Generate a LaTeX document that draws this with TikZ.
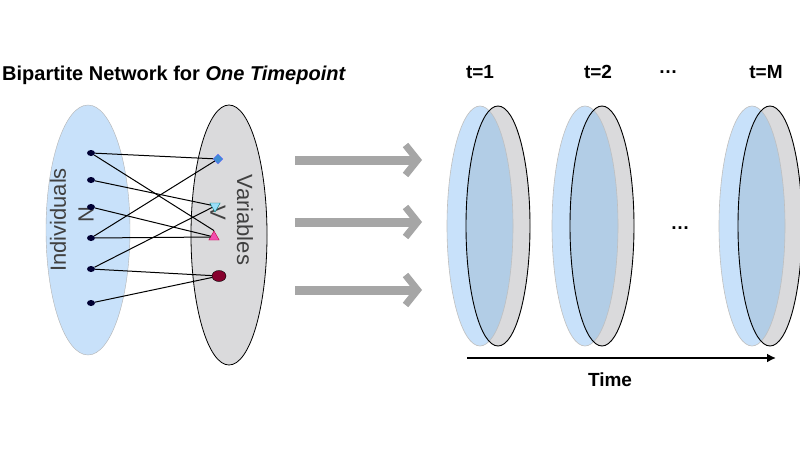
\documentclass[tikz,border=0pt]{standalone}
\usepackage{fontspec}
\setmainfont{Liberation Sans}
\usetikzlibrary{shapes.geometric,arrows.meta}
\definecolor{lblue}{RGB}{200,225,250}
\definecolor{lgray}{RGB}{218,218,220}
\definecolor{dblue}{RGB}{178,205,230}
\tikzset{
  dot/.style={ellipse,fill=black!80!blue,minimum width=8pt,minimum height=6pt,inner sep=0pt},
  edge/.style={black,line width=1pt},
  bigarrow/.style={line width=9pt,gray!70,-{Straight Barb[length=12pt,width=30pt,line width=7pt]}},
  lbl/.style={font=\fontsize{19}{19}\selectfont\bfseries}
}
\begin{document}
\begin{tikzpicture}[x=1pt,y=-1pt]
\useasboundingbox[fill=white] (0,0) rectangle (800,450);
\node[font=\fontsize{20}{20}\selectfont\bfseries,anchor=west,inner sep=0pt] (title) at (2,75) {Bipartite Network for \textit{One Timepoint}};
% left ellipses
\fill[lblue,draw=gray!60] (88,230) ellipse [x radius=42,y radius=125];
\filldraw[fill=lgray,draw=black,line width=0.8pt] (229,235) ellipse [x radius=38,y radius=130];
\node[rotate=90,font=\fontsize{22}{22}\selectfont,text=black!75] (ind) at (58,220) {Individuals};
\node[rotate=90,font=\fontsize{22}{22}\selectfont,text=black!75] (nn) at (86,215) {N};
\node[rotate=-90,font=\fontsize{22}{22}\selectfont,text=black!75] (var) at (245,220) {Variables};
\node[rotate=-90,font=\fontsize{22}{22}\selectfont,text=black!75] (vv) at (218,213) {V};
\foreach \i/\y in {1/153,2/180,3/207,4/238,5/269,6/303} \node[dot] (d\i) at (91,\y) {};
\node[diamond,fill=cyan!60!blue!80,draw=blue!60,minimum size=10pt,inner sep=0pt] (va) at (218,159) {};
\node[isosceles triangle,shape border rotate=-90,fill=cyan!40,draw=teal,minimum size=9pt,inner sep=0pt,isosceles triangle apex angle=60] (vb) at (215,206) {};
\node[isosceles triangle,shape border rotate=90,fill=magenta!70,draw=purple,minimum size=9pt,inner sep=0pt,isosceles triangle apex angle=60] (vc) at (214,237) {};
\node[ellipse,fill=purple!70!black,draw=black,minimum width=14pt,minimum height=11pt,inner sep=0pt] (vd) at (219,276) {};
\draw[edge] (d1)--(va); \draw[edge] (d1)--(vc.north);
\draw[edge] (d2)--(vb);
\draw[edge] (d3)--(vc);
\draw[edge] (d4)--(va); \draw[edge] (d4)--(vc);
\draw[edge] (d5)--(vb); \draw[edge] (d5)--(vd);
\draw[edge] (d6)--(vd);
% big arrows
\foreach \k/\y in {a/160,b/222,c/290}{
  \coordinate (s\k) at (295,\y); \coordinate (e\k) at (422,\y);
  \draw[bigarrow] (s\k)--(e\k);}
% discs
\foreach \k/\bx/\gx in {1/480/498,2/585/602,3/752/770}{
  \fill[lgray] (\gx,226) ellipse [x radius=32,y radius=120];
  \fill[lblue] (\bx,226) ellipse [x radius=33,y radius=120];
  \begin{scope}
    \clip (\gx,226) ellipse [x radius=32,y radius=120];
    \fill[dblue] (\bx,226) ellipse [x radius=33,y radius=120];
  \end{scope}
  \draw[gray!50,line width=0.6pt] (\bx,226) ellipse [x radius=33,y radius=120];
  \draw[black,line width=0.9pt] (\gx,226) ellipse [x radius=32,y radius=120];
}
\node[lbl] (t1) at (480,72) {t=1};
\node[lbl] (t2) at (598,72) {t=2};
\node[lbl] (td) at (668,72) {…};
\node[lbl] (tm) at (766,72) {t=M};
\node[lbl] (mid) at (680,228) {…};
\coordinate (ts) at (467,358); \coordinate (te) at (776,358);
\draw[line width=2pt,-{Latex[length=9pt,width=9pt]}] (ts)--(te);
\node[lbl] (time) at (610,380) {Time};
\end{tikzpicture}
\end{document}
